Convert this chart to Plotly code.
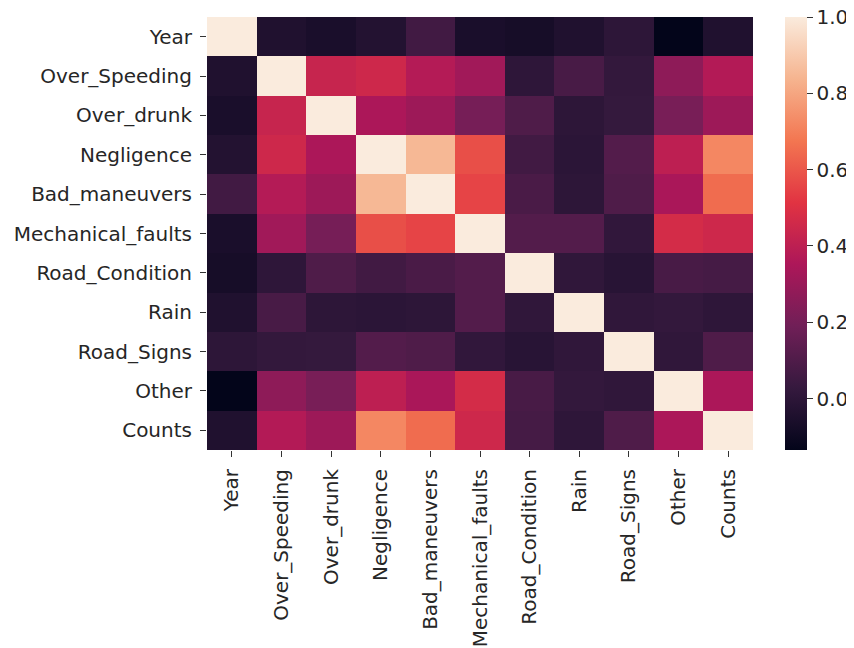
import plotly.graph_objects as go

labels = ["Year", "Over_Speeding", "Over_drunk", "Negligence", "Bad_maneuvers",
          "Mechanical_faults", "Road_Condition", "Rain", "Road_Signs", "Other", "Counts"]

# upper-triangle correlation values, row by row
row_year = [1.0, -0.04, -0.06, -0.03, 0.06, -0.06, -0.07, -0.04, 0.00, -0.135, -0.04]
row_speed = [0.45, 0.375, 0.32, 0.005, 0.08, 0.02, 0.27, 0.37]
row_drunk = [0.35, 0.31, 0.205, 0.10, 0.0, 0.025, 0.21, 0.31]
row_negl = [0.85, 0.58, 0.06, -0.005, 0.11, 0.40, 0.72]
row_bad = [0.555, 0.085, 0.0, 0.10, 0.345, 0.65]
row_mech = [0.11, 0.11, 0.015, 0.47, 0.45]
row_road = [0.01, -0.015, 0.08, 0.07]
row_rain = [0.01, 0.02, 0.005]
row_signs = [0.01, 0.10]
row_other = [0.35]
speed_drunk = 0.43

cbar_ticks = [0.0, 0.2, 0.4, 0.6, 0.8, 1.0]
cbar_labels = ["0.0", "0.2", "0.4", "0.6", "0.8", "1.0"]

upper = [row_year,
         [1.0, speed_drunk] + row_speed,
         [1.0] + row_drunk,
         [1.0] + row_negl,
         [1.0] + row_bad,
         [1.0] + row_mech,
         [1.0] + row_road,
         [1.0] + row_rain,
         [1.0] + row_signs,
         [1.0] + row_other,
         [1.0]]

n = len(labels)
z = [[0.0] * n for _ in range(n)]
for i in range(n):
    for k, v in enumerate(upper[i]):
        j = i + k
        z[i][j] = v
        z[j][i] = v

rocket = [[0.0, "#03051a"], [0.143, "#35193e"], [0.286, "#701f57"], [0.429, "#ad1759"],
          [0.571, "#e13342"], [0.714, "#f37651"], [0.857, "#f6b48f"], [1.0, "#faebdd"]]

zmin = min(min(r) for r in z)
zmax = 1.0
tv = [min(t, zmax - 1e-4) for t in cbar_ticks]
fig = go.Figure(go.Heatmap(
    z=z, x=labels, y=labels, colorscale=rocket, zmin=zmin, zmax=zmax,
    xgap=0, ygap=0,
    colorbar=dict(thickness=22, len=1.0, lenmode="fraction", y=0.5, yanchor="middle",
                  x=1.0586, xanchor="left", xpad=0, ypad=0, outlinewidth=0,
                  tickvals=tv, ticktext=cbar_labels, ticklabeloverflow="allow",
                  ticks="outside", ticklen=6, tickcolor="#333",
                  tickfont=dict(size=20, color="#262626", family="DejaVu Sans"))
))
fig.update_layout(
    width=846, height=640,
    margin=dict(l=199, r=101, t=9, b=198, autoexpand=False),
    paper_bgcolor="white", plot_bgcolor="white",
    font=dict(family="DejaVu Sans", size=20, color="#262626"),
)
fig.update_xaxes(tickangle=-90, ticks="outside", ticklen=6, tickcolor="#333",
                 ticklabelstandoff=4,
                 showgrid=False, zeroline=False, showline=False)
fig.update_yaxes(autorange="reversed", ticks="outside", ticklen=6, tickcolor="#333",
                 ticklabelstandoff=4,
                 showgrid=False, zeroline=False, showline=False)
fig.write_html("out.html")
